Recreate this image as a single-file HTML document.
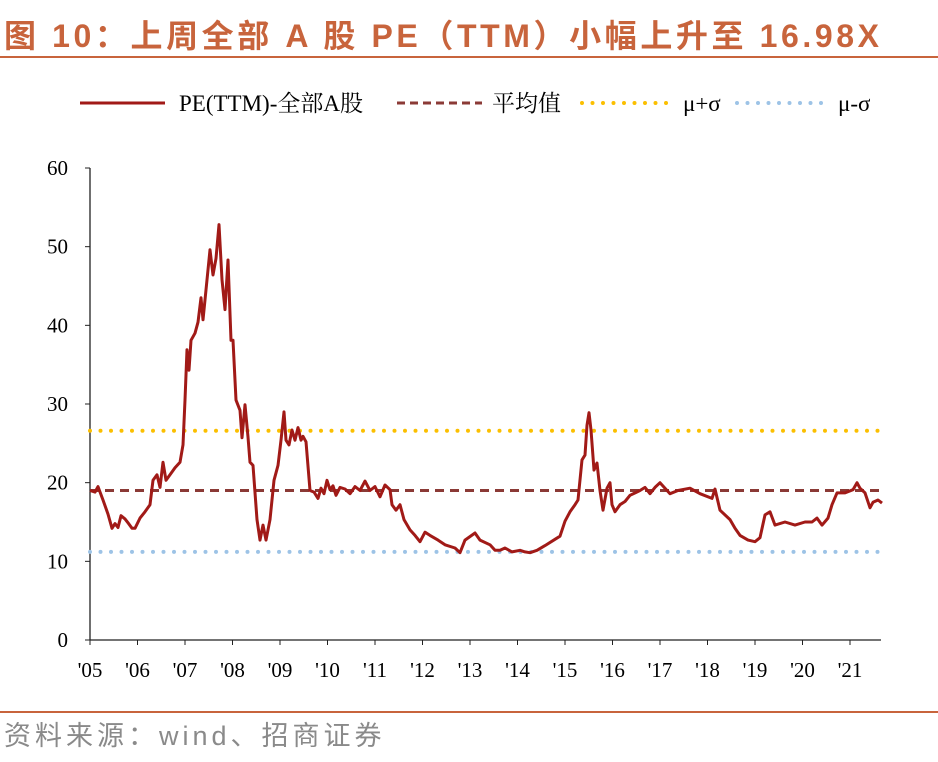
<!DOCTYPE html>
<html><head><meta charset="utf-8"><style>
body{margin:0;background:#fff;width:938px;height:762px;overflow:hidden;position:relative;font-family:"Liberation Serif","Noto Serif CJK SC",serif}
#title{position:absolute;left:4px;top:11px;font:bold 32px "Liberation Sans","Noto Sans CJK SC",sans-serif;color:#c8643c;white-space:nowrap;letter-spacing:3.6px}
#src{position:absolute;left:4px;top:714px;font:27px "Liberation Sans","Noto Sans CJK SC",sans-serif;color:#8a8a8a;letter-spacing:4px}
</style></head><body>
<div id="title">图 10：上周全部 A 股 PE（TTM）小幅上升至 16.98X</div>
<div id="src">资料来源：wind、招商证券</div>
<svg id="chart" width="938" height="762" style="position:absolute;left:0;top:0">
<line x1="0" y1="57" x2="938" y2="57" stroke="#c8643c" stroke-width="2"/>
<line x1="0" y1="712" x2="938" y2="712" stroke="#c8643c" stroke-width="2"/>
<g font-size="23" font-family="Liberation Serif, Noto Serif CJK SC, serif">
<g><line x1="80" y1="103" x2="165" y2="103" stroke="#a11a17" stroke-width="3"/><text x="179" y="111">PE(TTM)-全部A股</text></g>
<g><line x1="397" y1="103" x2="482" y2="103" stroke="#8b3a36" stroke-width="3" stroke-dasharray="8,5"/><text x="492" y="111">平均值</text></g>
<g><line x1="582" y1="103" x2="672" y2="103" stroke="#fbbf00" stroke-width="4" stroke-dasharray="0,10.5" stroke-linecap="round"/><text x="683" y="111">μ+σ</text></g>
<g><line x1="737" y1="103" x2="827" y2="103" stroke="#9dc3e6" stroke-width="4" stroke-dasharray="0,10.5" stroke-linecap="round"/><text x="838" y="111">μ-σ</text></g>
</g>
<g id="axes"></g>
<g id="lines"></g>
</svg>
<script>
const yTicks=[0,10,20,30,40,50,60];
const xLabels=["'05","'06","'07","'08","'09","'10","'11","'12","'13","'14","'15","'16","'17","'18","'19","'20","'21"];
const meanVal=19.0, plusSigma=26.6, minusSigma=11.2;
const baseYear=2005;
const yearOffset=[0,.105,.168,.274,.379,.463,.526,.589,.653,.737,.8,.884,.947,1.053,1.158,1.263,1.326,1.411,1.474,1.537,1.6,1.684,1.789,1.895,1.958,2.0,2.042,2.084,2.126,2.211,2.274,2.337,2.379,2.442,2.526,2.589,2.653,2.716,2.779,2.842,2.905,2.968,3.011,3.074,3.158,3.2,3.263,3.326,3.368,3.432,3.516,3.579,3.642,3.705,3.789,3.874,3.958,4.021,4.084,4.126,4.189,4.253,4.316,4.379,4.442,4.484,4.547,4.632,4.716,4.8,4.863,4.926,4.989,5.053,5.116,5.179,5.263,5.368,5.474,5.579,5.684,5.789,5.895,6.0,6.105,6.211,6.316,6.358,6.442,6.526,6.611,6.737,6.842,6.947,7.053,7.158,7.326,7.474,7.684,7.789,7.895,8.105,8.211,8.421,8.526,8.632,8.737,8.884,9.053,9.158,9.263,9.411,9.579,9.789,9.895,10.0,10.105,10.211,10.274,10.358,10.421,10.463,10.505,10.547,10.611,10.674,10.737,10.8,10.884,10.947,10.989,11.053,11.158,11.263,11.368,11.579,11.684,11.789,11.895,12.0,12.211,12.379,12.632,12.842,13.095,13.158,13.263,13.474,13.579,13.684,13.853,14.0,14.105,14.211,14.316,14.421,14.632,14.842,15.053,15.2,15.305,15.411,15.537,15.621,15.726,15.895,16.063,16.147,16.211,16.316,16.421,16.484,16.589,16.674];
const values=[19.0,18.8,19.5,17.8,16.0,14.2,14.8,14.3,15.8,15.4,14.9,14.2,14.2,15.5,16.3,17.2,20.3,21.0,19.4,22.6,20.3,21.0,21.9,22.6,24.8,30.5,36.9,34.3,38.1,39.0,40.4,43.5,40.7,44.5,49.6,46.4,48.5,52.8,45.8,42.0,48.3,38.1,38.1,30.5,29.2,25.7,29.9,25.8,22.6,22.2,15.3,12.7,14.6,12.7,15.3,20.3,22.2,25.4,29.0,25.4,24.8,26.7,25.4,27.0,25.4,25.9,25.2,19.0,18.8,18.0,19.3,18.6,20.3,19.1,19.6,18.4,19.4,19.2,18.6,19.5,19.0,20.2,19.0,19.5,18.2,19.7,19.1,17.2,16.5,17.2,15.3,14.0,13.3,12.5,13.7,13.3,12.7,12.1,11.7,11.1,12.7,13.6,12.7,12.1,11.4,11.4,11.7,11.2,11.4,11.2,11.1,11.4,12.0,12.8,13.2,15.1,16.3,17.2,17.8,22.9,23.5,27.3,28.9,26.7,21.6,22.5,19.0,16.5,19.3,20.0,17.2,16.3,17.2,17.6,18.4,19.0,19.4,18.6,19.4,20.0,18.6,19.0,19.3,18.6,18.0,19.2,16.5,15.3,14.2,13.3,12.7,12.5,13.0,15.9,16.3,14.6,15.0,14.6,15.0,15.0,15.5,14.6,15.5,17.2,18.7,18.7,19.1,20.0,19.3,18.7,16.8,17.5,17.8,17.4];
const X0=90,X1=881,Y0=640,Yt=168;
const xs=d=>X0+(d-2005)*47.5;
const ys=v=>Y0-(v/60)*(Y0-Yt);
const NS="http://www.w3.org/2000/svg";
function mk(tag,attrs,parent){const e=document.createElementNS(NS,tag);for(const k in attrs)e.setAttribute(k,attrs[k]);parent.appendChild(e);return e;}
const axes=document.getElementById('axes'),lines=document.getElementById('lines');
let yAxis=mk('line',{x1:X0,y1:Yt,x2:X0,y2:Y0,stroke:'#222','stroke-width':1.3},axes);


let xAxis=mk('line',{x1:X0,y1:Y0,x2:X1,y2:Y0,stroke:'#222','stroke-width':1.3},axes);


yTicks.forEach(t=>{
  mk('line',{x1:X0-5,y1:ys(t),x2:X0,y2:ys(t),stroke:'#222'},axes);
  const tx=mk('text',{x:68,y:ys(t)+7,'text-anchor':'end','font-size':21},axes);
  tx.textContent=t;
  
  
});
xLabels.forEach((l,i)=>{
  const x=xs(2005+i);
  mk('line',{x1:x,y1:Y0,x2:x,y2:Y0+5,stroke:'#222'},axes);
  const tx=mk('text',{x:x,y:677,'text-anchor':'middle','font-size':21},axes);
  tx.textContent=l;
  
  
});
function hline(v,color,dash,w,name,cap){
  const l=mk('line',{x1:X0,y1:ys(v),x2:X1,y2:ys(v),stroke:color,'stroke-width':w,'stroke-dasharray':dash,'stroke-linecap':cap||'butt'},lines);
  
  
}
hline(plusSigma,'#fbbf00','0,10.5',4,'plus-sigma-line','round');
hline(minusSigma,'#9dc3e6','0,10.5',4,'minus-sigma-line','round');
hline(meanVal,'#8b3a36','9,6',3,'mean-line');
const pts=yearOffset.map((d,i)=>xs(baseYear+d).toFixed(1)+','+ys(values[i]).toFixed(1)).join(' ');
const pl=mk('polyline',{points:pts,fill:'none',stroke:'#a11a17','stroke-width':3,'stroke-linejoin':'round'},lines);


</script>
</body></html>
